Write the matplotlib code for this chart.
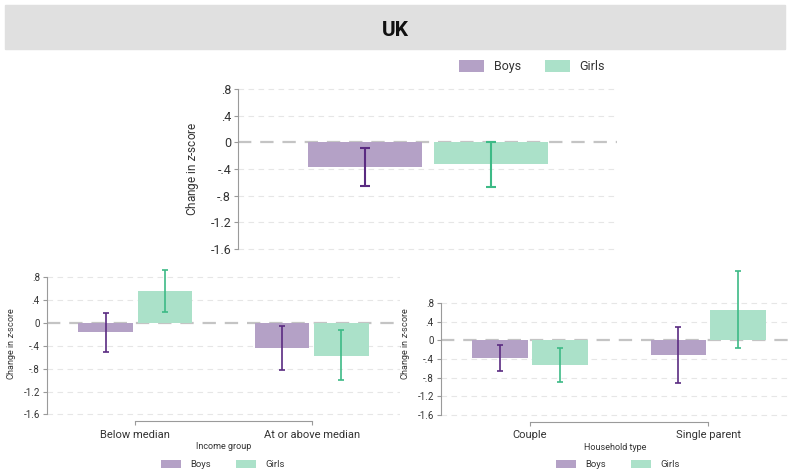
import matplotlib
matplotlib.use("Agg")
import matplotlib.pyplot as plt
import numpy as np

plt.rcParams['font.family'] = ['Roboto', 'DejaVu Sans']
plt.rcParams['mathtext.fontset'] = 'custom'
plt.rcParams['mathtext.rm'] = 'Roboto'
plt.rcParams['mathtext.it'] = 'Roboto:italic'

# overall
overall_boys = -0.375
overall_boys_ci = (-0.66, -0.09)
overall_girls = -0.33
overall_girls_ci = (-0.665, 0.0)

# by income group
income_groups = ["Below median", "At or above median"]
income_boys = [-0.165, -0.44]
income_boys_lo = [-0.50, -0.82]
income_boys_hi = [0.18, -0.05]
income_girls = [0.555, -0.57]
income_girls_lo = [0.20, -1.00]
income_girls_hi = [0.92, -0.12]

# by household type
house_types = ["Couple", "Single parent"]
house_boys = [-0.39, -0.32]
house_boys_lo = [-0.66, -0.925]
house_boys_hi = [-0.11, 0.29]
house_girls = [-0.53, 0.65]
house_girls_lo = [-0.90, -0.17]
house_girls_hi = [-0.16, 1.49]

yticks = [0.8, 0.4, 0, -0.4, -0.8, -1.2, -1.6]
ytick_labels = [".8", ".4", "0", "-.4", "-.8", "-1.2", "-1.6"]

boys_fill = "#b4a1c6"
boys_line = "#5a2b81"
girls_fill = "#abe1c9"
girls_line = "#3dba86"
axis_grey = "#9a9a9a"
ylab = "Change in $z$-score"


def style_y(ax, fs):
    ax.set_yticks(yticks)
    ax.set_yticklabels(ytick_labels, fontsize=fs, color="#333333")
    for y in yticks:
        if y == 0:
            ax.axhline(0, color="#c4c4c4", lw=1.6, ls=(0, (6, 4)), zorder=0.5)
        else:
            ax.axhline(y, color="#e6e6e6", lw=0.8, ls=(0, (5, 4)), zorder=0.5)
    for s in ["top", "right"]:
        ax.spines[s].set_visible(False)
    ax.spines["left"].set_bounds(-1.6, 0.8)
    ax.spines["left"].set_color(axis_grey)
    ax.tick_params(axis="y", length=3, color=axis_grey, pad=2)


def err(ax, x, lo, hi, color, cap, lw):
    lo = np.array(lo)
    hi = np.array(hi)
    mid = (lo + hi) / 2
    ax.errorbar(x, mid, yerr=(hi - lo) / 2, fmt="none", ecolor=color,
                capsize=cap, elinewidth=lw, capthick=lw, zorder=3)


fig = plt.figure(figsize=(7.9, 4.71), dpi=100)

# title band
fig.patches.append(plt.Rectangle((5 / 790, 1 - 49 / 471), 780 / 790, 44 / 471,
                                 transform=fig.transFigure, color="#e0e0e0", zorder=0))
fig.text(0.5, 1 - 31 / 471, "UK", ha="center", va="center", fontsize=15,
         fontweight="bold", color="#111111")

# top panel: overall
ax = fig.add_axes([0.3013, 0.4643, 0.4797, 0.3539])
ax.set_ylim(-1.65, 0.85)
ax.set_xlim(-1.008, 2.0)
bw = 0.905
b1 = ax.bar(0, overall_boys, width=bw, color=boys_fill, label="Boys", zorder=2)
b2 = ax.bar(1, overall_girls, width=bw, color=girls_fill, label="Girls", zorder=2)
err(ax, [0], [overall_boys_ci[0]], [overall_boys_ci[1]], boys_line, 3.3, 1.5)
err(ax, [1], [overall_girls_ci[0]], [overall_girls_ci[1]], girls_line, 3.3, 1.5)
style_y(ax, 9)
ax.spines["bottom"].set_visible(False)
ax.set_xticks([])
ax.set_ylabel(ylab, fontsize=8.5, color="#333333", labelpad=7)
fig.legend(handles=[b1, b2], loc="center", bbox_to_anchor=(532 / 790, 1 - 66.5 / 471),
           ncol=2, frameon=False, fontsize=9, handlelength=2.0, handleheight=1.05,
           handletextpad=0.8, columnspacing=1.9, labelcolor="#333333")


def lower_panel(rect, ylim, xlim, cats, bv, blo, bhi, gv, glo, ghi, xlabel, legx):
    ax = fig.add_axes(rect)
    ax.set_ylim(*ylim)
    ax.set_xlim(*xlim)
    x = np.arange(len(cats))
    w = 0.31
    d = 0.168
    hb = ax.bar(x - d, bv, width=w, color=boys_fill, label="Boys", zorder=2)
    hg = ax.bar(x + d, gv, width=w, color=girls_fill, label="Girls", zorder=2)
    err(ax, x - d, blo, bhi, boys_line, 2.4, 1.2)
    err(ax, x + d, glo, ghi, girls_line, 2.4, 1.2)
    style_y(ax, 7)
    ax.spines["bottom"].set_bounds(0, len(cats) - 1)
    ax.spines["bottom"].set_color(axis_grey)
    ax.set_xticks(x)
    ax.set_xticklabels(cats, fontsize=8, color="#333333")
    ax.tick_params(axis="x", length=3, color=axis_grey, pad=3)
    ax.set_xlabel(xlabel, fontsize=6.5, color="#333333", labelpad=2)
    ax.set_ylabel(ylab, fontsize=6.5, color="#333333", labelpad=4)
    fig.legend(handles=[hb, hg], loc="center", bbox_to_anchor=(legx / 790, 1 - 464.5 / 471),
               ncol=2, frameon=False, fontsize=6.8, handlelength=2.1, handleheight=1.0,
               handletextpad=1.0, columnspacing=2.6, labelcolor="#333333")
    return ax


lower_panel([0.0595, 0.1057, 0.4468, 0.3297], (-1.72, 1.0), (-0.5, 1.5), income_groups,
            income_boys, income_boys_lo, income_boys_hi,
            income_girls, income_girls_lo, income_girls_hi, "Income group", 223)

lower_panel([0.5582, 0.1047, 0.4418, 0.3306], (-1.744, 1.59), (-0.5, 1.46), house_types,
            house_boys, house_boys_lo, house_boys_hi,
            house_girls, house_girls_lo, house_girls_hi, "Household type", 618)

fig.savefig("out.png", dpi=100)
